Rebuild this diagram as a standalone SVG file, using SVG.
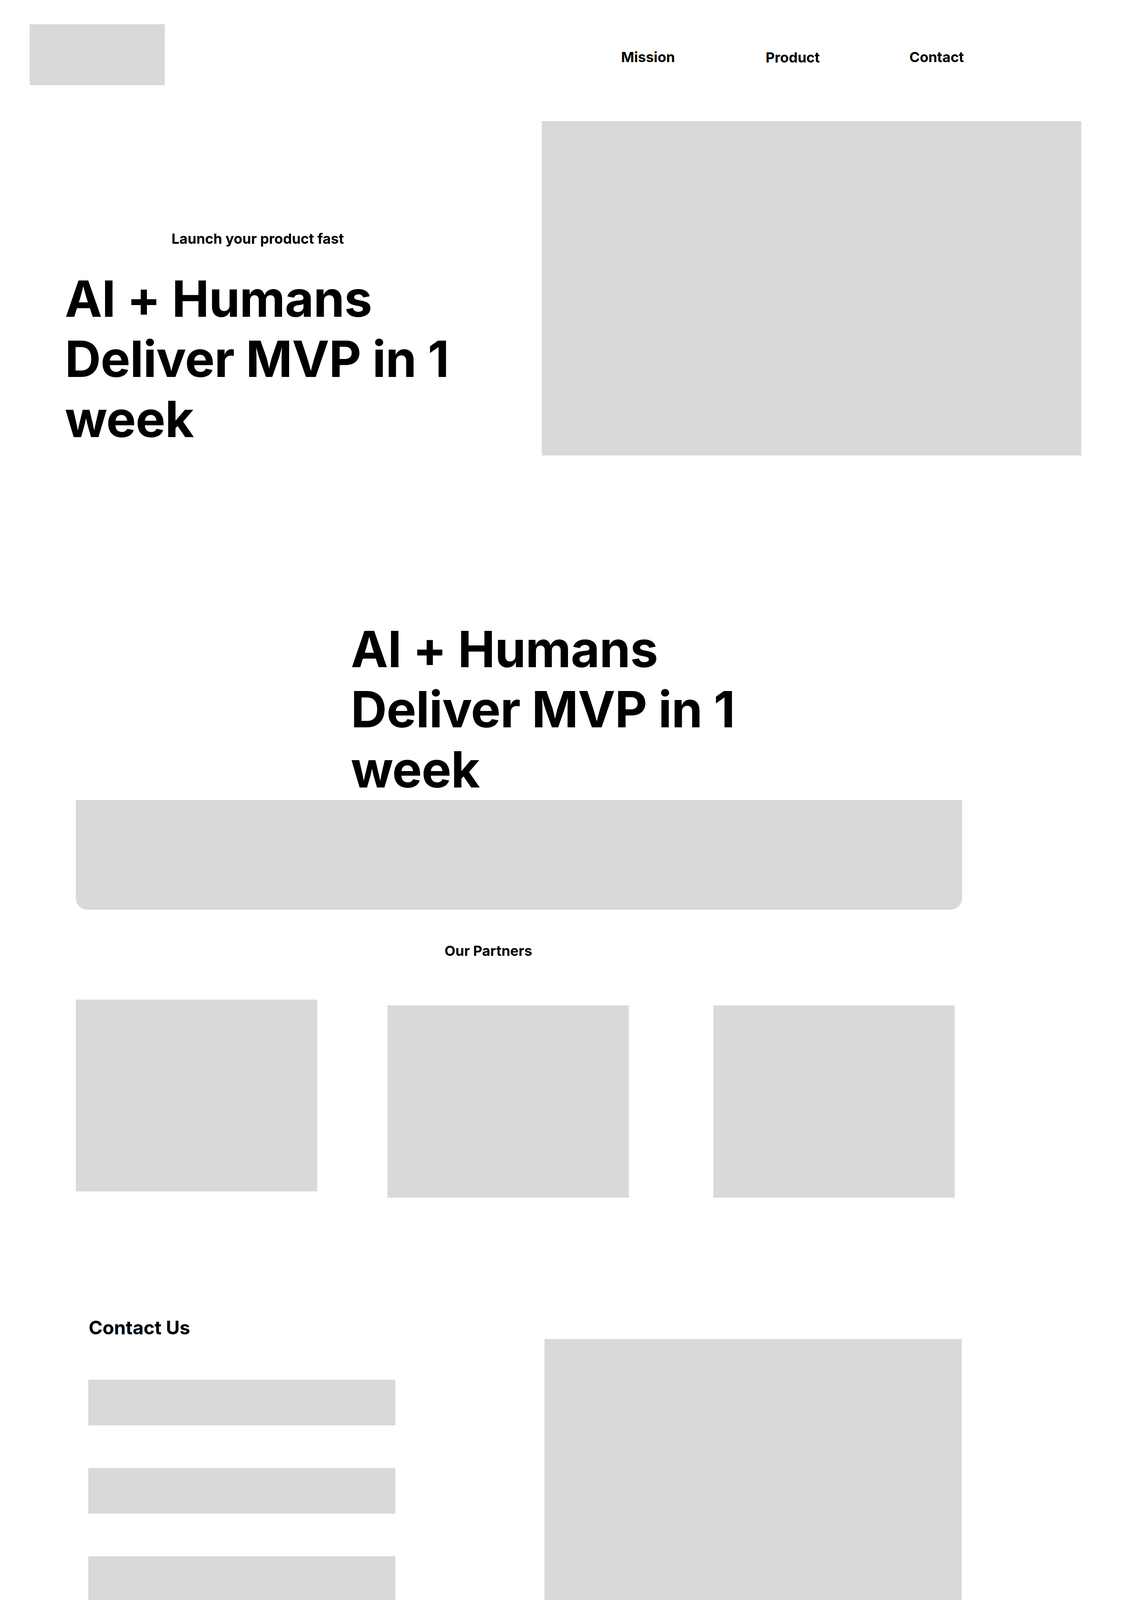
<svg xmlns="http://www.w3.org/2000/svg" width="2880" height="4632" viewBox="0 0 2880 4632">
<style>
.box{fill:#D9D9D9}
.t{font-family:Inter,"Liberation Sans",sans-serif;font-weight:700;fill:#000}
.nav{font-size:36px}
.small{font-size:36px}
.mid{font-size:48px}
.big{font-size:128px;letter-spacing:-1px}
</style>
<rect width="2880" height="4632" fill="#FFFFFF"/>
<g id="logo"><rect class="box" x="76" y="62" width="346" height="156"/></g>
<g id="nav-mission"><text class="t nav" x="1590" y="159">Mission</text></g>
<g id="nav-product"><text class="t nav" x="1960" y="160">Product</text></g>
<g id="nav-contact"><text class="t nav" x="2328" y="159">Contact</text></g>
<g id="hero-image"><rect class="box" x="1387" y="310" width="1381" height="856"/></g>
<g id="hero-tagline"><text class="t small" x="439" y="624">Launch your product fast</text></g>
<g id="hero-heading"><text class="t big"><tspan x="166" y="811">AI + Humans</tspan><tspan x="166" y="965">Deliver MVP in 1</tspan><tspan x="166" y="1119">week</tspan></text></g>
<g id="section-heading"><text class="t big"><tspan x="898" y="1708">AI + Humans</tspan><tspan x="898" y="1862">Deliver MVP in 1</tspan><tspan x="898" y="2016">week</tspan></text></g>
<g id="banner"><path class="box" d="M194,2048 H2463 V2299 A30,30 0 0 1 2433,2329 H224 A30,30 0 0 1 194,2299 Z"/></g>
<g id="partners-title"><text class="t small" x="1138" y="2447">Our Partners</text></g>
<g id="partner-1"><rect class="box" x="194" y="2559" width="618" height="491"/></g>
<g id="partner-2"><rect class="box" x="992" y="2574" width="618" height="492"/></g>
<g id="partner-3"><rect class="box" x="1826" y="2574" width="618" height="492"/></g>
<g id="contact-title"><text class="t mid" x="227" y="3416">Contact Us</text></g>
<g id="input-1"><rect class="box" x="226" y="3532" width="786" height="117"/></g>
<g id="input-2"><rect class="box" x="226" y="3758" width="786" height="117"/></g>
<g id="input-3"><rect class="box" x="226" y="3984" width="786" height="117"/></g>
<g id="submit"><rect class="box" x="356" y="4162" width="456" height="112"/><text class="t mid" x="449" y="4234">Submit</text></g>
<g id="contact-image"><rect class="box" x="1394" y="3428" width="1068" height="846"/></g>
<g id="footer"><rect class="box" x="194" y="4386" width="2268" height="246"/><text class="t mid" x="1137" y="4538">footer</text></g>
<g id="connectors"></g>
</svg>
